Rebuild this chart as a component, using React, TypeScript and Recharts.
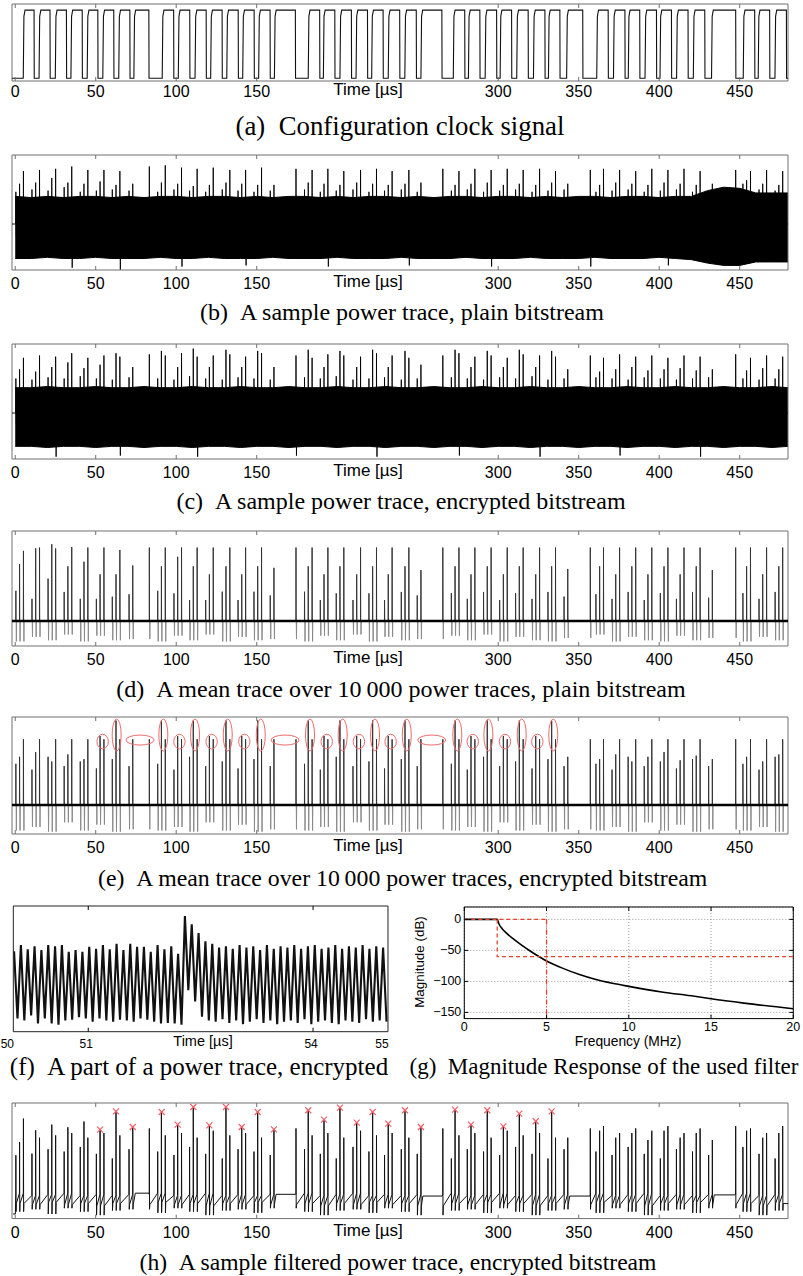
import React from 'react';
import { ComposedChart, Line, Area, XAxis, YAxis, ReferenceArea, Scatter, CartesianGrid } from 'recharts';

// ---------- constants ----------
const W = 803;
const PLOT_L = 12;
const PLOT_R = 788;
const TIME_DOMAIN: [number, number] = [-2, 480];
const TIME_TICKS = [0, 50, 100, 150, 300, 350, 400, 450];
const FRAME = '#707070';
const SANS = '"Liberation Sans", Arial, Helvetica, sans-serif';
const SERIF = '"Liberation Serif", "Times New Roman", serif';

// ---------- data ----------
// (a) clock pulses [rise, fall] in µs
const clockPulses: [number, number][] = [
  [5.0, 11.7], [14.8, 21.6], [24.9, 31.8], [34.6, 41.6], [44.7, 51.3], [54.4, 61.2], [64.3, 71.2], [73.7, 83.0],
  [91.3, 98.4], [101.3, 108.4], [111.7, 118.6], [121.4, 128.5], [131.4, 138.5], [141.3, 148.4], [151.2, 158.3], [161.0, 174.0],
  [182.0, 189.1], [191.4, 198.5], [201.7, 208.8], [211.7, 218.8], [221.4, 228.5], [231.7, 238.8], [242.0, 249.1], [252.0, 265.0],
  [272.1, 279.2], [281.5, 288.6], [291.9, 299.0], [301.2, 308.3], [311.5, 318.6], [321.9, 329.0], [331.2, 338.3], [342.5, 352.5],
  [361.2, 368.3], [371.6, 378.7], [380.8, 387.9], [391.2, 398.3], [400.5, 407.6], [410.8, 417.9], [421.2, 428.3], [432.5, 447.5],
  [452.2, 459.3], [461.5, 468.6], [471.9, 479.0],
];
const clockLevels = { low: 3.5, high: 92 };

// event times (µs) of the three spike kinds that repeat each clock period
const shortT = [
  0.4, 10.4, 20.4, 30.4, 40.4, 50.4, 60.3, 70.7,
  88.5, 98.6, 108.3, 118.3, 128.6, 138.4, 148.3, 158.4,
  179.7, 189.5, 199.4, 209.8, 219.7, 229.4, 239.8, 249.7,
  270.9, 280.8, 290.9, 300.9, 310.8, 321.0, 330.9, 340.9,
  360.7, 370.7, 380.7, 390.7, 400.7, 410.7, 420.7, 430.7,
  452.0, 462.0, 472.0,
];
const medT = [
  2.7, 12.7, 22.7, 32.7, 42.7, 52.7, 62.6, 73.0,
  90.8, 100.9, 110.6, 120.6, 130.9, 140.7, 150.6, 160.7,
  182.0, 191.8, 201.7, 212.1, 222.0, 231.7, 242.1, 252.0,
  273.2, 283.1, 293.2, 303.2, 313.1, 323.3, 333.2, 343.2,
  363.0, 373.0, 383.0, 393.0, 403.0, 413.0, 423.0, 433.0,
  454.3, 464.3, 474.3,
];
const tallT = [
  5.1, 15.1, 25.1, 35.1, 45.1, 55.1, 65.0,
  83.3, 93.2, 103.3, 113.0, 123.0, 133.3, 143.1, 153.0,
  174.4, 184.4, 194.2, 204.1, 214.5, 224.4, 234.1, 244.5,
  265.6, 275.6, 285.5, 295.6, 305.6, 315.5, 325.7, 335.6,
  357.2, 365.4, 375.4, 385.4, 395.4, 405.4, 415.4, 425.4,
  447.5, 456.7, 466.7, 476.7,
];

// (b) plain power trace: band envelope every 10 µs from 0, and spike tops
const bBandHi = [64, 63, 64, 63, 64, 64, 63, 64, 63, 64, 64, 63, 64, 64, 63, 64, 63, 64, 64, 63, 64, 63, 64, 64, 63, 64, 63, 64, 64, 63, 64, 64, 63, 64, 63, 64, 64, 63, 64, 64, 63, 64, 64, 69, 72, 71, 67, 67, 67];
const bBandLo = [10, 10, 11, 10, 10, 11, 10, 10, 10, 11, 10, 10, 11, 10, 10, 10, 11, 10, 10, 10, 11, 10, 10, 10, 11, 10, 10, 10, 11, 10, 10, 10, 11, 10, 10, 10, 11, 10, 10, 10, 11, 10, 9, 6, 4, 4, 7, 7, 7];
const bShort = [68, 70, 69, 72, 68, 69, 70, 69, 68, 70, 69, 68, 70, 69, 68, 69, 70, 68, 69, 70, 68, 69, 70, 68, 69, 70, 68, 69, 70, 68, 69, 70, 68, 69, 70, 68, 69, 70, 68, 69, 75, 70, 69];
const bMed = [75, 76, 80, 76, 75, 77, 74, 75, 76, 75, 73, 74, 76, 75, 74, 74, 76, 75, 74, 76, 75, 74, 75, 76, 74, 75, 76, 74, 75, 74, 76, 75, 74, 76, 75, 74, 76, 75, 74, 75, 78, 75, 74];
const bTall = [86, 87, 88, 90, 87, 87, 86, 90, 91, 89, 88, 89, 87, 87, 89, 88, 87, 88, 86, 87, 88, 86, 87, 88, 86, 88, 87, 88, 87, 88, 86, 87, 88, 87, 86, 88, 87, 88, 86, 87, 86, 87, 86];
const bDown = [30, 30, 30, 2, 30, 30, 0.5, 30, 30, 3, 30, 30, 30, 4, 30, 30, 30, 3, 30, 30, 30, 30, 4, 30, 30, 30, 3, 30, 30, 30, 30, 3, 30, 30, 30, 30, 4, 30, 30, 30, 30, 30, 30];

// (c) encrypted power trace
const cBandHi = [62, 62, 63, 62, 62, 63, 62, 62, 63, 62, 62, 63, 62, 62, 63, 62, 62, 63, 62, 62, 63, 62, 62, 63, 62, 62, 63, 62, 62, 63, 62, 62, 63, 62, 62, 63, 62, 62, 63, 62, 62, 63, 62, 62, 63, 62, 62, 63, 62];
const cBandLo = [11, 11, 10, 11, 11, 10, 11, 11, 10, 11, 11, 10, 11, 11, 10, 11, 11, 10, 11, 11, 10, 11, 11, 10, 11, 11, 10, 11, 11, 10, 11, 11, 10, 11, 11, 10, 11, 11, 10, 11, 11, 10, 11, 11, 10, 11, 11, 10, 11];
const cShort = [70, 69, 71, 70, 72, 70, 69, 71, 70, 69, 72, 70, 69, 71, 70, 69, 71, 70, 72, 69, 70, 71, 69, 70, 71, 70, 69, 71, 70, 72, 69, 70, 71, 70, 69, 71, 70, 69, 70, 71, 70, 69, 70];
const cMed = [78, 76, 80, 84, 79, 82, 92, 80, 94, 80, 96, 80, 95, 80, 94, 80, 95, 80, 94, 80, 95, 80, 94, 82, 95, 80, 94, 80, 95, 80, 94, 78, 76, 78, 80, 77, 78, 79, 77, 78, 77, 79, 78];
const cTall = [88, 90, 89, 92, 88, 90, 89, 91, 90, 92, 89, 90, 91, 89, 92, 90, 88, 91, 90, 89, 92, 90, 88, 90, 92, 89, 90, 88, 91, 90, 89, 90, 88, 91, 89, 90, 88, 90, 89, 91, 88, 90, 89];
const cDown = [30, 30, 2, 30, 30, 30, 3, 30, 30, 30, 2, 30, 30, 30, 30, 3, 30, 30, 30, 30, 2, 30, 30, 30, 3, 30, 30, 30, 30, 2, 30, 30, 30, 3, 30, 30, 30, 30, 2, 30, 30, 30, 30];
const bandInside = 30; // depth of lobes that stay hidden inside the band

// (d) mean trace, plain bitstream
const dBase = 21.7;
const dShort = [48, 41, 58.6, 47, 41, 41, 42.9, 45, 48, 45.8, 40, 40, 47.2, 40, 47.2, 44, 47.2, 40, 45.8, 40, 45.8, 40, 47, 44, 46, 41, 47, 40, 46, 41, 47, 43, 45, 41, 47, 40, 46, 41, 47, 42, 46, 41, 47];
const dMed = [71.3, 85, 88.5, 69.3, 73.3, 62.3, 62.3, 70, 69.3, 77.6, 69.3, 62.3, 69.3, 62.3, 69.3, 68, 69.3, 62.3, 69.3, 62.3, 69.3, 62.3, 69.3, 66, 69.3, 62.3, 69.3, 62.3, 69.3, 62.3, 69.3, 67, 69.3, 62.3, 69.3, 62.3, 69.3, 62.3, 69.3, 66, 69.3, 62.3, 69.3];
const dTall = [82.7, 85.6, 84.8, 86.1, 85.6, 85.6, 83.5, 85.6, 85.6, 85.6, 85.6, 85.6, 85.6, 85.6, 85.6, 85.6, 85.6, 85.6, 85.6, 85.6, 85.6, 85.6, 85.6, 85.6, 85.6, 85.6, 85.6, 85.6, 85.6, 85.6, 85.6, 85.6, 85.6, 85.6, 85.6, 85.6, 85.6, 85.6, 85.6, 85.6, 85.6, 85.6, 85.6];
const dDown = [4, 8, 5, 10, 4, 9, 5, 6, 4, 9, 5, 10, 4, 8, 5, 6, 4, 9, 5, 10, 4, 8, 5, 6, 9, 5, 10, 4, 8, 5, 4, 7, 10, 4, 8, 5, 4, 9, 5, 7, 4, 8, 5];

// (e) mean trace, encrypted bitstream
const eBase = 24.8;
const eShort = [60, 55, 66, 58, 62, 56, 64, 58, 60, 55, 66, 58, 62, 56, 64, 58, 60, 55, 66, 58, 62, 56, 64, 58, 60, 55, 66, 58, 62, 56, 64, 58, 60, 55, 66, 58, 62, 56, 64, 58, 60, 55, 66];
const eMed = [66, 70, 62, 68, 64, 83.8, 97, 81, 97, 83.8, 97, 83.8, 97, 83.8, 97, 81, 97, 83.8, 97, 83.8, 97, 83.8, 97, 81, 97, 83.8, 97, 83.8, 97, 83.8, 97, 66, 64, 68, 62, 66, 70, 63, 67, 64, 66, 62, 68];
const eTall = [81, 81, 81, 81, 81, 81, 81, 81, 81, 81, 81, 81, 81, 81, 81, 81, 81, 81, 81, 81, 81, 81, 81, 81, 81, 81, 81, 81, 81, 81, 81, 81, 81, 81, 81, 81, 81, 81, 81, 81, 81, 81, 81];
const eDown = [3, 6, 2, 10, 3, 8, 2, 4, 3, 6, 2, 10, 3, 8, 2, 4, 3, 6, 2, 10, 3, 8, 2, 4, 3, 6, 2, 10, 3, 8, 2, 4, 3, 6, 2, 10, 3, 8, 2, 4, 3, 6, 2];
// annotation ellipses in (e): [t, y, kind]
const eEllipses: [number, number, string][] = [
  [54.3, 79, 'small'], [63, 84.6, 'tall'], [77.5, 80.3, 'wide'], [92, 84.6, 'tall'], [102, 79, 'small'], [111.7, 84.6, 'tall'],
  [122, 79, 'small'], [132, 84.6, 'tall'], [142.3, 79, 'small'], [152.5, 84.6, 'tall'], [167.6, 80.3, 'wide'], [183.1, 84.6, 'tall'],
  [193.5, 79, 'small'], [203.4, 84.6, 'tall'], [213.5, 79, 'small'], [223.5, 84.6, 'tall'], [233.2, 79, 'small'], [243.2, 84.6, 'tall'],
  [258.7, 80.3, 'wide'], [274.6, 84.6, 'tall'], [284.2, 79, 'small'], [293.9, 84.6, 'tall'], [304.2, 79, 'small'], [314.6, 84.6, 'tall'],
  [324.3, 79, 'small'], [334.2, 84.6, 'tall'],
];

// (h) filtered trace
const hShort = [54.8, 56.2, 60, 58, 62, 56, 52, 60, 58, 55, 62, 56, 52, 60, 58, 55, 60, 56, 52, 62, 58, 55, 60, 56, 52, 60, 58, 55, 62, 56, 52, 60, 58, 55, 62, 56, 52, 60, 58, 55, 62, 56, 52];
const hMed = [66.3, 76.4, 81.3, 79, 84, 77, 92.8, 79.2, 92.2, 81.3, 96.5, 80.7, 96.5, 79.2, 92.2, 77.2, 93.7, 85.6, 96, 83, 92.2, 82.2, 93.7, 79.2, 94.3, 81.3, 93.7, 79.8, 90.8, 84.2, 92.8, 70, 76, 70, 74, 68, 76, 70, 74, 68, 76, 70, 74];
const hTall = [86.5, 70, 72, 74, 70, 74, 72, 78, 72, 74, 70, 76, 72, 74, 70, 78, 72, 74, 70, 76, 72, 74, 70, 78, 72, 74, 70, 76, 72, 74, 70, 78, 80, 74, 78, 76, 80, 74, 78, 80, 78, 74, 80];
const hPre = [22, 20, 21, 22, 20, 21, 20, 21, 22, 20, 21, 22, 20, 21, 20, 21, 22, 20, 21, 22, 20, 21, 20, 21, 22, 20, 21, 22, 20, 21, 20, 21, 22, 20, 21, 22, 20, 21, 20, 21, 22, 20, 21];
const hPost = [13, 12, 14, 12, 13, 11, 13, 12, 14, 12, 13, 11, 13, 12, 14, 12, 13, 11, 13, 12, 14, 12, 13, 11, 13, 12, 14, 12, 13, 11, 13, 12, 14, 12, 13, 11, 13, 12, 14, 12, 13, 11, 13];
const hDown = [6, 8, 4, 9, 6, 3, 7, 8, 5, 9, 6, 3, 7, 8, 5, 9, 6, 3, 7, 8, 5, 9, 6, 3, 7, 8, 5, 9, 6, 3, 7, 8, 5, 9, 6, 3, 7, 8, 5, 9, 6, 3, 7];
// quiet stretches of the filtered trace: [from, to, level]
const hQuiet: [number, number, number][] = [[-2, 0.1, 4], [74, 83, 22], [161.4, 174, 21], [252.6, 265.3, 19.5], [343.8, 357, 19.5], [433.6, 447.2, 20.5]];
const hCrosses: [number, number][] = [
  [52.7, 77], [62.6, 92.8], [73, 79.2], [91, 92.2], [100.9, 81.3], [110.6, 96.5], [120.6, 80.7], [130.9, 96.5], [140.7, 79.2],
  [150.6, 92.2], [160.7, 77.2], [182, 93.7], [191.8, 85.6], [201.7, 96], [212.1, 83], [222, 92.2], [231.7, 82.2], [242.1, 93.7],
  [252, 79.2], [273.2, 94.3], [283.1, 81.3], [293.2, 93.7], [303.2, 79.8], [313.1, 90.8], [323.3, 84.2], [333.2, 92.8],
];

// (f) zoomed power trace: peak and trough values per oscillation cycle
const fStart = 50.01;
const fPeriod = 0.0912;
const fPeaks = [64, 69, 65.5, 68, 65, 69, 68, 69, 63.5, 65, 63.5, 67.5, 66, 69, 65.5, 70, 65, 70, 67.5, 67.5, 63.5, 69, 65.5, 68, 62, 92, 85.5, 78.5, 72, 70, 67, 68, 66, 69, 67, 68, 65, 69, 66, 68, 67, 69, 66, 68, 69, 66, 67, 69, 66, 68, 67, 69, 66, 68, 67];
const fTroughs = [10.5, 9, 13, 6.5, 10.5, 6.5, 5.5, 9, 9.5, 11.5, 10.5, 8, 10.5, 9, 8, 9.5, 9, 8, 10.5, 9.5, 8, 6.5, 7, 6.5, 5.5, 33, 24, 12, 9, 8, 10, 7, 9, 6, 8, 10, 7, 9, 6, 8, 9, 7, 10, 6, 8, 9, 7, 6, 9, 8, 7, 10, 8, 9, 8];

// (g) filter magnitude response
const gCurve: [number, number][] = [
  [0, 0], [1, 0], [2, 0], [2.1, -7], [2.3, -15], [2.6, -23], [3, -32], [3.4, -40], [4, -51], [5, -67], [6, -79], [7, -89],
  [8, -97], [9, -103], [10, -108], [12, -117], [14, -124], [15, -128], [17, -135], [20, -144],
];
const gSpecPass: [number, number][] = [[0, 0], [5, 0]];
const gSpecStop: [number, number][] = [[2, 0], [2, -60], [20, -60]];
const gSpecEdge: [number, number][] = [[5, 0], [5, -160]];

// captions
const captions: { label: string; text: string; cx: number; y: number; size: number }[] = [
  { label: '(a)', text: 'Configuration clock signal', cx: 400, y: 126, size: 26.8 },
  { label: '(b)', text: 'A sample power trace, plain bitstream', cx: 402, y: 312, size: 24 },
  { label: '(c)', text: 'A sample power trace, encrypted bitstream', cx: 401, y: 501, size: 24 },
  { label: '(d)', text: 'A mean trace over 10\u2009000 power traces, plain bitstream', cx: 401, y: 689, size: 24 },
  { label: '(e)', text: 'A mean trace over 10\u2009000 power traces, encrypted bitstream', cx: 398, y: 878, size: 23.8 },
  { label: '(f)', text: 'A part of a power trace, encrypted', cx: 199, y: 1067, size: 25 },
  { label: '(g)', text: 'Magnitude Response of the used filter', cx: 604, y: 1067, size: 23 },
  { label: '(h)', text: 'A sample filtered power trace, encrypted bitstream', cx: 398, y: 1262, size: 23.6 },
];

// ---------- builders ----------
type Pt = { t: number; v: number };

function buildClock() {
  const pts: Pt[] = [{ t: -2, v: clockLevels.low }];
  for (const [r, f] of clockPulses) {
    pts.push({ t: r, v: clockLevels.low });
    pts.push({ t: r + 0.4, v: clockLevels.high - 8 });
    pts.push({ t: r + 1.1, v: clockLevels.high });
    pts.push({ t: f, v: clockLevels.high });
    pts.push({ t: f + 0.12, v: clockLevels.low });
  }
  pts.push({ t: 480, v: clockLevels.low });
  return pts;
}

type Ev = { t: number; up: number; dn: number; pre: number; post: number };

// dnOther: when given, short and medium spikes use it as their lower lobe instead of the per-period depth
function events(sh: number[], md: number[], tl: number[], dn: number[], pre?: number[], post?: number[], dnOther?: number): Ev[] {
  const ev: Ev[] = [];
  const p = (i: number) => (pre ? pre[i] : 0);
  const q = (i: number) => (post ? post[i] : 0);
  const o = (i: number) => (dnOther !== undefined ? dnOther : dn[i]);
  shortT.forEach((t, i) => ev.push({ t, up: sh[i], dn: o(i), pre: p(i), post: q(i) }));
  medT.forEach((t, i) => ev.push({ t, up: md[i], dn: o(i), pre: p(i), post: q(i) }));
  tallT.forEach((t, i) => ev.push({ t, up: tl[i], dn: dn[i], pre: p(i), post: q(i) }));
  return ev.sort((a, b) => a.t - b.t);
}

function lobes(ev: Ev[], base: number, useUp: boolean, useDn: boolean) {
  const pts: Pt[] = [{ t: -2, v: base }];
  for (const e of ev) {
    if (useUp) {
      pts.push({ t: e.t - 0.06, v: base });
      pts.push({ t: e.t, v: e.up });
      pts.push({ t: e.t + 0.1, v: base });
    }
    if (useDn) {
      pts.push({ t: e.t + 0.18, v: base });
      pts.push({ t: e.t + 0.3, v: e.dn });
      pts.push({ t: e.t + 0.45, v: base });
    }
  }
  pts.push({ t: 480, v: base });
  return pts;
}

function filtered(ev: Ev[]) {
  const items: { t: number; pts: Pt[] }[] = [];
  for (const e of ev) {
    items.push({ t: e.t, pts: [
      { t: e.t - 0.06, v: e.pre },
      { t: e.t, v: e.up },
      { t: e.t + 0.12, v: e.dn },
      { t: e.t + 0.3, v: e.post },
    ] });
  }
  for (const [a, b, lv] of hQuiet) {
    items.push({ t: a + 0.01, pts: [{ t: a + 0.6, v: lv }, { t: b, v: lv }] });
  }
  items.sort((x, y) => x.t - y.t);
  const pts: Pt[] = [];
  for (const it of items) pts.push(...it.pts);
  pts.push({ t: 480, v: pts[pts.length - 1].v });
  return pts;
}

function bandData(hi: number[], lo: number[]) {
  return hi.map((h, i) => ({ t: Math.min(i * 10, 480), r: [lo[i], h] }));
}

const clockData = buildClock();

const bSp = lobes(events(bShort, bMed, bTall, bDown, undefined, undefined, bandInside), 40, true, true);
const cSp = lobes(events(cShort, cMed, cTall, cDown, undefined, undefined, bandInside), 40, true, true);
const dEv = events(dShort, dMed, dTall, dDown);
const eEv = events(eShort, eMed, eTall, eDown);
const dUp = lobes(dEv, dBase, true, false);
const dDn = lobes(dEv, dBase, false, true);
const eUp = lobes(eEv, eBase, true, false);
const eDn = lobes(eEv, eBase, false, true);
const hData = filtered(events(hShort, hMed, hTall, hDown, hPre, hPost));
const dBaseLine = [{ t: -2, v: dBase }, { t: 480, v: dBase }];
const eBaseLine = [{ t: -2, v: eBase }, { t: 480, v: eBase }];

const fData: Pt[] = [];
fPeaks.forEach((p, i) => {
  fData.push({ t: fStart + i * fPeriod, v: p });
  fData.push({ t: fStart + (i + 0.5) * fPeriod, v: fTroughs[i] });
});

const toXY = (arr: [number, number][]) => arr.map(([f, m]) => ({ f, m }));

// ---------- components ----------
function Caption({ label, text, cx, y, size }: { label: string; text: string; cx: number; y: number; size: number }) {
  return (
    <div style={{ position: 'absolute', left: cx - 300, width: 600, top: y - 15, height: 30, lineHeight: '30px', textAlign: 'center', fontFamily: SERIF, fontSize: size, color: '#000', whiteSpace: 'pre' }}>
      {label + '\u2002' + text}
    </div>
  );
}

function TimePanel({ top, bottom, labelY, children }: { top: number; bottom: number; labelY: number; children: React.ReactNode }) {
  const padTop = 2;
  const chartTop = top - padTop;
  const plotH = bottom - top;
  const axisH = labelY - bottom + 12;
  const height = padTop + plotH + axisH;
  const lblLocal = labelY - chartTop;
  const tick = (props: any) => {
    const { x, payload } = props;
    return (
      <g>
        <line x1={x} x2={x} y1={padTop + plotH} y2={padTop + plotH - 4} stroke={FRAME} />
        <line x1={x} x2={x} y1={padTop} y2={padTop + 4} stroke={FRAME} />
        <text x={x} y={lblLocal} textAnchor="middle" dominantBaseline="central" fontFamily={SANS} fontSize={16} fill="#000">
          {payload.value}
        </text>
      </g>
    );
  };
  return (
    <div style={{ position: 'absolute', left: 0, top: chartTop, width: W, height }}>
      <ComposedChart width={W} height={height} margin={{ top: padTop, right: W - PLOT_R, bottom: 0, left: PLOT_L }}>
        <XAxis type="number" dataKey="t" domain={TIME_DOMAIN} ticks={TIME_TICKS} interval={0} allowDataOverflow tick={tick} tickLine={false} axisLine={false} height={axisH} />
        <YAxis type="number" domain={[0, 100]} hide allowDataOverflow />
        {children}
        <ReferenceArea x1={TIME_DOMAIN[0]} x2={TIME_DOMAIN[1]} y1={0} y2={100} fill="none" fillOpacity={0} stroke={FRAME} strokeWidth={1} ifOverflow="visible" />
      </ComposedChart>
      <div style={{ position: 'absolute', left: 368 - 60, width: 120, top: lblLocal - 11, height: 20, lineHeight: '20px', textAlign: 'center', fontFamily: SANS, fontSize: 17, color: '#000' }}>
        Time [µs]
      </div>
    </div>
  );
}

function EllipseShape(props: any) {
  const { cx, cy, payload } = props;
  const kind = payload.kind;
  const rx = kind === 'tall' ? 4.5 : kind === 'wide' ? 14 : 5.7;
  const ry = kind === 'tall' ? 16 : kind === 'wide' ? 5 : 7.3;
  return <ellipse cx={cx} cy={cy} rx={rx} ry={ry} fill="none" stroke="#ef6b6b" strokeWidth={1} />;
}

function CrossShape(props: any) {
  const { cx, cy } = props;
  const s = 3;
  return (
    <g stroke="#f0606a" strokeWidth={1.2}>
      <line x1={cx - s} y1={cy - s} x2={cx + s} y2={cy + s} />
      <line x1={cx - s} y1={cy + s} x2={cx + s} y2={cy - s} />
    </g>
  );
}

function PanelF() {
  const top = 906, bottom = 1031.7, labelY = 1041.7;
  const padTop = 2;
  const chartTop = top - padTop;
  const plotH = bottom - top;
  const axisH = labelY - bottom + 12;
  const height = padTop + plotH + axisH;
  const lblLocal = labelY - chartTop;
  const tick = (props: any) => {
    const { x, payload } = props;
    const v = payload.value;
    const dx = v === 50 || v === 55 ? -6 : -2;
    return (
      <g>
        {v !== 50 && v !== 55 && (
          <>
            <line x1={x} x2={x} y1={padTop + plotH} y2={padTop + plotH - 4} stroke="#000" />
            <line x1={x} x2={x} y1={padTop} y2={padTop + 4} stroke="#000" />
          </>
        )}
        <text x={x + dx} y={lblLocal + 2} textAnchor="middle" dominantBaseline="central" fontFamily={SANS} fontSize={12} fill="#000">
          {v}
        </text>
      </g>
    );
  };
  return (
    <div style={{ position: 'absolute', left: 0, top: chartTop, width: 400, height }}>
      <ComposedChart width={400} height={height} margin={{ top: padTop, right: 400 - 388, bottom: 0, left: 13.3 }}>
        <XAxis type="number" dataKey="t" domain={[50, 55]} ticks={[50, 51, 54, 55]} interval={0} allowDataOverflow tick={tick} tickLine={false} axisLine={false} height={axisH} />
        <YAxis type="number" domain={[0, 100]} hide allowDataOverflow />
        <Line data={fData} dataKey="v" type="linear" dot={false} stroke="#111" strokeWidth={2.1} isAnimationActive={false} />
        <ReferenceArea x1={50} x2={55} y1={0} y2={100} fill="none" fillOpacity={0} stroke="#222" strokeWidth={1} ifOverflow="visible" />
      </ComposedChart>
      <div style={{ position: 'absolute', left: 203 - 50, width: 100, top: lblLocal - 11, height: 20, lineHeight: '20px', textAlign: 'center', fontFamily: SANS, fontSize: 14.5, color: '#000' }}>
        Time [µs]
      </div>
    </div>
  );
}

function PanelG() {
  const top = 906.7, bottom = 1018.3;
  const padTop = 2;
  const chartTop = top - padTop;
  const plotH = bottom - top;
  const axisH = 26;
  const height = padTop + plotH + axisH;
  const left = 400;
  const plotL = 464.3 - left;
  const plotR = 793.3 - left;
  const xTick = (props: any) => {
    const { x, payload } = props;
    return (
      <g>
        <line x1={x} x2={x} y1={padTop + plotH} y2={padTop + plotH - 4} stroke="#000" />
        <line x1={x} x2={x} y1={padTop} y2={padTop + 4} stroke="#000" />
        <text x={x} y={1027 - chartTop} textAnchor="middle" dominantBaseline="central" fontFamily={SANS} fontSize={12.5} fill="#000">
          {payload.value}
        </text>
      </g>
    );
  };
  const yTick = (props: any) => {
    const { y, payload } = props;
    const label = String(payload.value).replace('-', '\u2212');
    return (
      <g>
        <line x1={plotL} x2={plotL + 4} y1={y} y2={y} stroke="#000" />
        <line x1={plotR} x2={plotR - 4} y1={y} y2={y} stroke="#000" />
        <text x={plotL - 3} y={y} textAnchor="end" dominantBaseline="central" fontFamily={SANS} fontSize={12.5} fill="#000">
          {label}
        </text>
      </g>
    );
  };
  return (
    <>
      <div style={{ position: 'absolute', left, top: chartTop, width: 403, height }}>
        <ComposedChart width={403} height={height} margin={{ top: padTop, right: 403 - plotR, bottom: 0, left: plotL - 50 }}>
          <CartesianGrid stroke="#9a9a9a" strokeDasharray="1 2" />
          <XAxis type="number" dataKey="f" domain={[0, 20]} ticks={[0, 5, 10, 15, 20]} interval={0} allowDataOverflow tick={xTick} tickLine={false} axisLine={false} height={axisH} />
          <YAxis type="number" domain={[-160, 20]} ticks={[0, -50, -100, -150]} interval={0} allowDataOverflow tick={yTick} tickLine={false} axisLine={false} width={50} />
          <Line data={toXY(gCurve)} dataKey="m" type="monotone" dot={false} stroke="#000" strokeWidth={1.6} isAnimationActive={false} />
          <Line data={toXY(gSpecPass)} dataKey="m" type="linear" dot={false} stroke="#e2452e" strokeWidth={1.3} strokeDasharray="4 3" isAnimationActive={false} />
          <Line data={toXY(gSpecStop)} dataKey="m" type="linear" dot={false} stroke="#e2452e" strokeWidth={1.3} strokeDasharray="4 3" isAnimationActive={false} />
          <Line data={toXY(gSpecEdge)} dataKey="m" type="linear" dot={false} stroke="#e2452e" strokeWidth={1.3} strokeDasharray="5 2 1 2" isAnimationActive={false} />
          <ReferenceArea x1={0} x2={20} y1={-160} y2={20} fill="none" fillOpacity={0} stroke="#000" strokeWidth={1} ifOverflow="visible" />
        </ComposedChart>
      </div>
      <div style={{ position: 'absolute', left: 628 - 80, width: 160, top: 1035, height: 13, lineHeight: '13px', textAlign: 'center', fontFamily: SANS, fontSize: 13.8, color: '#000' }}>
        Frequency (MHz)
      </div>
      <div style={{ position: 'absolute', left: 420 - 60, width: 120, top: 961.7 - 9, height: 18, lineHeight: '18px', textAlign: 'center', fontFamily: SANS, fontSize: 13.4, color: '#000', transform: 'rotate(-90deg)' }}>
        Magnitude (dB)
      </div>
    </>
  );
}

export default function App() {
  return (
    <div style={{ position: 'absolute', left: 0, top: 0, width: W, height: 1276, background: '#fff', overflow: 'hidden' }}>
      {/* (a) */}
      <TimePanel top={4} bottom={81} labelY={91}>
        <Line data={clockData} dataKey="v" type="linear" dot={false} stroke="#111" strokeWidth={1.1} isAnimationActive={false} />
      </TimePanel>

      {/* (b) */}
      <TimePanel top={155} bottom={270} labelY={283}>
        <Area data={bandData(bBandHi, bBandLo)} dataKey="r" type="linear" fill="#000" fillOpacity={1} stroke="#000" strokeWidth={1} isAnimationActive={false} />
        <Line data={bSp} dataKey="v" type="linear" dot={false} stroke="#000" strokeWidth={0.9} isAnimationActive={false} />
      </TimePanel>

      {/* (c) */}
      <TimePanel top={343.7} bottom={458.7} labelY={471.7}>
        <Area data={bandData(cBandHi, cBandLo)} dataKey="r" type="linear" fill="#000" fillOpacity={1} stroke="#000" strokeWidth={1} isAnimationActive={false} />
        <Line data={cSp} dataKey="v" type="linear" dot={false} stroke="#000" strokeWidth={0.9} isAnimationActive={false} />
      </TimePanel>

      {/* (d) */}
      <TimePanel top={530.7} bottom={645.7} labelY={659}>
        <Line data={dDn} dataKey="v" type="linear" dot={false} stroke="#8a8a8a" strokeWidth={1} isAnimationActive={false} />
        <Line data={dUp} dataKey="v" type="linear" dot={false} stroke="#333" strokeWidth={1} isAnimationActive={false} />
        <Line data={dBaseLine} dataKey="v" type="linear" dot={false} stroke="#000" strokeWidth={2.6} isAnimationActive={false} />
      </TimePanel>

      {/* (e) */}
      <TimePanel top={717} bottom={834} labelY={847}>
        <Line data={eDn} dataKey="v" type="linear" dot={false} stroke="#8a8a8a" strokeWidth={1} isAnimationActive={false} />
        <Line data={eUp} dataKey="v" type="linear" dot={false} stroke="#333" strokeWidth={1} isAnimationActive={false} />
        <Line data={eBaseLine} dataKey="v" type="linear" dot={false} stroke="#000" strokeWidth={2.6} isAnimationActive={false} />
        <Scatter data={eEllipses.map(([t, v, kind]) => ({ t, v, kind }))} dataKey="v" shape={<EllipseShape />} isAnimationActive={false} />
      </TimePanel>

      {/* (f) and (g) */}
      <PanelF />
      <PanelG />

      {/* (h) */}
      <TimePanel top={1102.7} bottom={1218.3} labelY={1231.7}>
        <Line data={hData} dataKey="v" type="linear" dot={false} stroke="#111" strokeWidth={1} isAnimationActive={false} />
        <Scatter data={hCrosses.map(([t, v]) => ({ t, v }))} dataKey="v" shape={<CrossShape />} isAnimationActive={false} />
      </TimePanel>

      {captions.map((c) => (
        <Caption key={c.label} {...c} />
      ))}
    </div>
  );
}
